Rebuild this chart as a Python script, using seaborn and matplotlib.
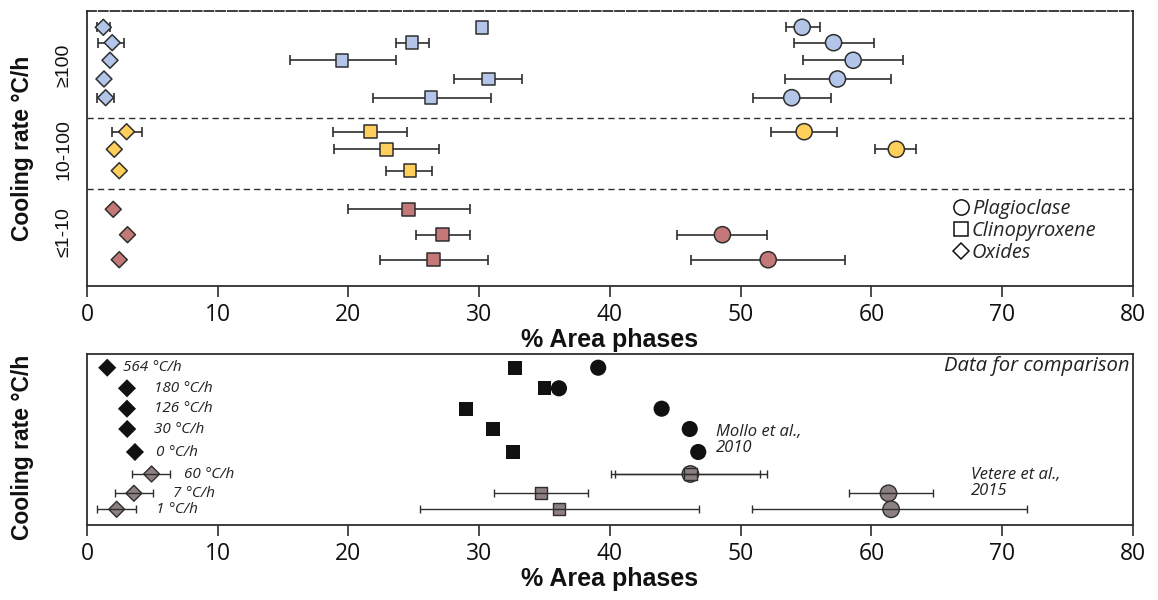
import numpy as np
import pandas as pd
import matplotlib
matplotlib.use("Agg")
import matplotlib.pyplot as plt
import matplotlib.transforms as mtransforms
from matplotlib import font_manager as fm
from matplotlib.lines import Line2D
import seaborn as sns

# ---------------- data: experiments (top panel) ----------------
groups = ["≥100"] * 5 + ["10-100"] * 3 + ["≤1-10"] * 3
sample_row = [16.3, 31.7, 49.3, 68.0, 86.7, 120.7, 138.3, 159.7, 198.3, 223.7, 248.7]
nan = np.nan
plag = [54.7, 57.1, 58.6, 57.4, 53.9, 54.85, 61.9, nan, nan, 48.6, 52.1]
plag_lo = [53.5, 54.1, 54.8, 53.4, 50.95, 52.3, 60.3, nan, nan, 45.1, 46.2]
plag_hi = [56.1, 60.2, 62.4, 61.5, 56.9, 57.4, 63.4, nan, nan, 52.0, 58.0]
cpx = [30.2, 24.85, 19.5, 30.7, 26.3, 21.7, 22.9, 24.7, 24.6, 27.2, 26.5]
cpx_lo = [nan, 23.6, 15.5, 28.1, 21.85, 18.8, 18.9, 22.9, 20.0, 25.2, 22.4]
cpx_hi = [nan, 26.15, 23.6, 33.3, 30.9, 24.45, 26.9, 26.4, 29.3, 29.3, 30.7]
ox = [1.25, 1.93, 1.76, 1.3, 1.43, 3.03, 2.09, 2.47, 2.01, 3.1, 2.47]
ox_lo = [0.75, 0.82, nan, nan, 0.74, 1.89, nan, nan, nan, nan, nan]
ox_hi = [1.75, 2.85, nan, nan, 2.09, 4.18, nan, nan, nan, nan, nan]
group_labels = ["≥100", "10-100", "≤1-10"]
group_label_row = [54.0, 139.0, 221.0]
group_separators = [107.0, 178.3]

# ---------------- data: comparison (bottom panel) ----------------
rate_labels = ["564 °C/h", "180 °C/h", "126 °C/h", "30 °C/h", "0 °C/h",
               "60 °C/h", "7 °C/h", "1 °C/h"]
source = ["Mollo"] * 5 + ["Vetere"] * 3
comp_row = [13.7, 34.3, 54.7, 75.0, 98.0, 120.0, 139.3, 155.3]
ox_b = [1.55, 3.06, 3.06, 3.08, 3.67, 4.94, 3.59, 2.27]
ox_b_lo = [nan] * 5 + [3.46, 2.14, 0.79]
ox_b_hi = [nan] * 5 + [6.36, 5.07, 3.77]
cpx_b = [32.75, 35.0, 29.0, 31.07, 32.6, 46.15, 34.7, 36.08]
cpx_b_lo = [nan] * 5 + [40.4, 31.1, 25.5]
cpx_b_hi = [nan] * 5 + [51.5, 38.35, 46.8]
plag_b = [39.1, 36.1, 43.95, 46.1, 46.75, 46.15, 61.3, 61.5]
plag_b_lo = [nan] * 5 + [40.1, 58.3, 50.9]
plag_b_hi = [nan] * 5 + [52.0, 64.7, 71.9]

phases = ["Plagioclase", "Clinopyroxene", "Oxides"]
x_ticks = [0, 10, 20, 30, 40, 50, 60, 70, 80]

# ---------------- style ----------------
sns.set_theme(style="ticks")
plt.rcParams["font.family"] = ["Open Sans", "DejaVu Sans"]
INK = "#2e2e2e"
group_colors = {"≥100": "#b3c6ea", "10-100": "#ffcf5c", "≤1-10": "#c47878"}
source_colors = {"Mollo": "#111111", "Vetere": "#8c8080"}
markers = {"Plagioclase": "o", "Clinopyroxene": "s", "Oxides": "D"}


def italic_font(size):
    """Open Sans Italic at normal width (avoid condensed variants)."""
    cands = [f for f in fm.fontManager.ttflist
             if f.name == "Open Sans" and f.style == "italic"]
    good = [f for f in cands if "ondensed" not in f.fname and
            str(f.stretch) in ("normal", "400", "500")]
    pool = good or cands
    if pool:
        pool.sort(key=lambda f: (abs((f.weight if isinstance(f.weight, int) else 400) - 400),
                                 len(f.fname)))
        return fm.FontProperties(fname=pool[0].fname, size=size)
    return fm.FontProperties(family="DejaVu Sans", style="oblique", size=size)


fig = plt.figure(figsize=(11.58, 6), dpi=100)
ax1 = fig.add_axes([0.0751, 0.5233, 0.9033, 0.4584])
ax2 = fig.add_axes([0.0751, 0.1245, 0.9033, 0.2855])

top = pd.DataFrame({"row": sample_row, "group": groups,
                    "Plagioclase": plag, "Clinopyroxene": cpx, "Oxides": ox})
top_err = {"Plagioclase": (plag_lo, plag_hi), "Clinopyroxene": (cpx_lo, cpx_hi),
           "Oxides": (ox_lo, ox_hi)}
top_long = top.melt(id_vars=["row", "group"], value_vars=phases,
                    var_name="phase", value_name="pct").dropna()

bot = pd.DataFrame({"row": comp_row, "source": source, "rate": rate_labels,
                    "Plagioclase": plag_b, "Clinopyroxene": cpx_b, "Oxides": ox_b})
bot_err = {"Plagioclase": (plag_b_lo, plag_b_hi), "Clinopyroxene": (cpx_b_lo, cpx_b_hi),
           "Oxides": (ox_b_lo, ox_b_hi)}
bot_long = bot.melt(id_vars=["row", "source", "rate"], value_vars=phases,
                    var_name="phase", value_name="pct").dropna()


def draw_err(ax, x, lo, hi, y, capsize, lw, z):
    x = np.asarray(x, float); lo = np.asarray(lo, float)
    hi = np.asarray(hi, float); y = np.asarray(y, float)
    m = ~np.isnan(lo) & ~np.isnan(x)
    ax.errorbar(x[m], y[m], xerr=[x[m] - lo[m], hi[m] - x[m]], fmt="none",
                ecolor=INK, elinewidth=lw, capsize=capsize, capthick=lw, zorder=z)


# ---------------- top panel ----------------
for ph in phases:
    vals = top[ph].values
    draw_err(ax1, vals, top_err[ph][0], top_err[ph][1], top["row"].values, 3.6, 1.2, 2)
top_sizes = {"Plagioclase": 135, "Clinopyroxene": 82, "Oxides": 66}
for ph in phases:
    sns.scatterplot(data=top_long[top_long.phase == ph], x="pct", y="row",
                    hue="group", palette=group_colors, marker=markers[ph],
                    s=top_sizes[ph], edgecolor=INK, linewidth=1.1,
                    legend=False, ax=ax1, zorder=3)
for yv in group_separators:
    ax1.axhline(yv, color=INK, lw=1.0, ls=(0, (4.5, 3)), zorder=1)
ax1.set_ylim(275, 0)
ax1.set_xlim(0, 80)
tr1 = mtransforms.blended_transform_factory(ax1.transAxes, ax1.transData)
for lab, yv in zip(group_labels, group_label_row):
    ax1.text(-0.022, yv, lab, transform=tr1, rotation=90, ha="center", va="center",
             fontsize=14, family=["Liberation Sans", "DejaVu Sans"], color="#111")

handles = [Line2D([], [], ls="none", marker="o", markersize=11, markerfacecolor="white",
                  markeredgecolor="#111", markeredgewidth=1.1),
           Line2D([], [], ls="none", marker="s", markersize=9.5, markerfacecolor="white",
                  markeredgecolor="#111", markeredgewidth=1.1),
           Line2D([], [], ls="none", marker="D", markersize=7.8, markerfacecolor="white",
                  markeredgecolor="#111", markeredgewidth=1.1)]
ax1.legend(handles, phases, loc="upper left", bbox_to_anchor=(0.818, 0.352),
           frameon=False, borderpad=0, handlelength=0.8, handletextpad=0.15,
           labelspacing=0.1, prop=italic_font(14.5))

# ---------------- bottom panel ----------------
bot_sizes = {"Mollo": {"Plagioclase": 135, "Clinopyroxene": 98, "Oxides": 85},
             "Vetere": {"Plagioclase": 140, "Clinopyroxene": 78, "Oxides": 66}}
for src in ["Mollo", "Vetere"]:
    for ph in phases:
        d = bot_long[(bot_long.source == src) & (bot_long.phase == ph)]
        sns.scatterplot(data=d, x="pct", y="row", hue="source", palette=source_colors,
                        marker=markers[ph], s=bot_sizes[src][ph],
                        edgecolor=("none" if src == "Mollo" else INK),
                        linewidth=(0 if src == "Mollo" else 1.0),
                        legend=False, ax=ax2, zorder=3)
for ph in phases:
    draw_err(ax2, bot[ph].values, bot_err[ph][0], bot_err[ph][1], bot["row"].values,
             2.6, 1.0, 4)
ax2.set_ylim(171.3, 0)
ax2.set_xlim(0, 80)
label_x = [2.75, 5.1, 5.1, 5.1, 5.3, 7.4, 6.6, 5.25]
for lab, xv, yv in zip(rate_labels, label_x, comp_row):
    ax2.text(xv, yv, lab, ha="left", va="center", fontproperties=italic_font(11),
             color="#222")
ax2.text(48.1, 86, "Mollo et al.,\n2010", ha="left", va="center",
         fontproperties=italic_font(12), linespacing=0.95, color="#222")
ax2.text(67.6, 129, "Vetere et al.,\n2015", ha="left", va="center",
         fontproperties=italic_font(12), linespacing=0.95, color="#222")
ax2.text(0.997, 11.7, "Data for comparison", transform=mtransforms.blended_transform_factory(
    ax2.transAxes, ax2.transData), ha="right", va="center",
    fontproperties=italic_font(14.6), color="#222")

# ---------------- axes decorations ----------------
for ax in (ax1, ax2):
    ax.set_xticks(x_ticks)
    ax.set_xticklabels([str(t) for t in x_ticks])
    ax.set_yticks([])
    ax.set_ylabel("")
    ax.set_xlabel("% Area phases", fontsize=18, fontweight="bold",
                  family=["Liberation Sans", "DejaVu Sans"], labelpad=1, color="#111")
    ax.tick_params(axis="x", direction="out", length=8, width=1.2, color=INK,
                   labelsize=16.5, pad=4, labelcolor="#111")
    for sp in ax.spines.values():
        sp.set_visible(True)
        sp.set_color(INK)
        sp.set_linewidth(1.3)
ax1.spines["top"].set_linestyle((0, (5, 1.5)))

for yc in (0.7525, 0.254):
    fig.text(23 / 1158, yc, "Cooling rate °C/h", rotation=90, ha="center", va="center",
             fontsize=16.5, fontweight="bold", family=["Liberation Sans", "DejaVu Sans"],
             color="#111")

fig.savefig("out.png", dpi=100)
